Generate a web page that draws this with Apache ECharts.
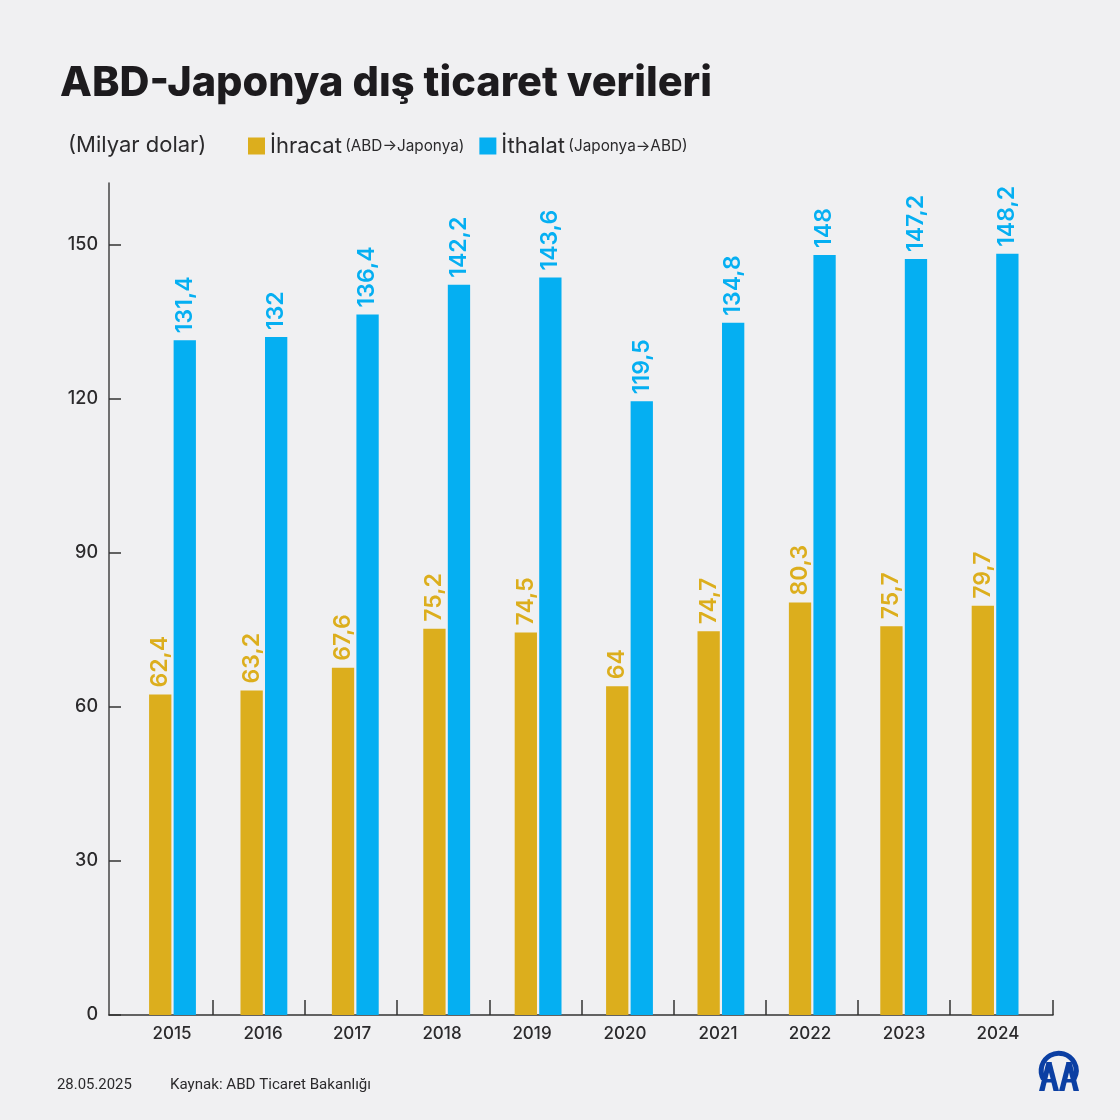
<!DOCTYPE html>
<html>
<head>
<meta charset="utf-8">
<title>ABD-Japonya dış ticaret verileri</title>
<script src="https://cdn.jsdelivr.net/npm/echarts@6/dist/echarts.min.js"></script>
<style>
  html, body { margin: 0; padding: 0; background: #f0f0f2; }
  #chart { width: 1120px; height: 1120px; }
</style>
</head>
<body>
<div id="chart"></div>
<script>
// veriler
var years = [2015, 2016, 2017, 2018, 2019, 2020, 2021, 2022, 2023, 2024]
var ihracat = [62.4, 63.2, 67.6, 75.2, 74.5, 64, 74.7, 80.3, 75.7, 79.7]
var ithalat = [131.4, 132, 136.4, 142.2, 143.6, 119.5, 134.8, 148, 147.2, 148.2]
var yTicks = [0, 30, 60, 90, 120, 150]
var seriesNames = ['İhracat', 'İthalat']
var seriesNotes = ['(ABD→Japonya)', '(Japonya→ABD)']

var gold = '#dcae1d'
var blue = '#05aff2'
var ink = '#2b2a2c'
var logoBlue = '#0b3fa3'
var numFont = 'Inter'
var headFont = 'Inter'

// x ekseni piksel <-> yil donusumu, bar araligi 91.4px
function xVal(px) {
  return 2015 + (px - 172.5) / 91.4
}
// ayrac tikler 92px aralikli, son tik eksen sonunda
var xTicks = years.slice(0, 9).map(function (y, i) {
  return xVal(213 + i * 92.1)
})
xTicks.push(xVal(1053))
// yil etiketleri barlara tam ortali degil
var xLabelPos = [172, 263, 352, 442, 532, 625, 718, 810, 904, 998].map(xVal)

function pairs(values) {
  return values.map(function (v, i) {
    return [years[i], v]
  })
}
function labelOf(color) {
  return {
    show: true,
    position: 'top',
    distance: 7,
    rotate: 90,
    align: 'left',
    verticalAlign: 'middle',
    color: color,
    fontFamily: headFont,
    fontWeight: 600,
    fontSize: 23,
    formatter: function (p) {
      return String(p.value[1]).replace('.', ',')
    }
  }
}
// logodaki A harfi: iki bacak ve bir cizgi
function logoA(x) {
  return [
    { type: 'polygon', shape: { points: [[x, 1091], [x + 7.5, 1062], [x + 12.5, 1062], [x + 5.5, 1091]] }, style: { fill: logoBlue } },
    { type: 'polygon', shape: { points: [[x + 20, 1091], [x + 12.5, 1062], [x + 7.5, 1062], [x + 14.5, 1091]] }, style: { fill: logoBlue } },
    { type: 'rect', shape: { x: x + 4, y: 1079, width: 12, height: 3.5 }, style: { fill: logoBlue } }
  ]
}

var chart = echarts.init(document.getElementById('chart'))
chart.setOption({
  backgroundColor: '#f0f0f2',
  animation: false,
  title: {
    text: 'ABD-Japonya dış ticaret verileri',
    left: 55,
    top: 58,
    textStyle: { fontFamily: headFont, fontWeight: 800, fontSize: 41.5, color: '#1d1b1e' }
  },
  legend: {
    left: 243,
    top: 130,
    itemWidth: 17,
    itemHeight: 17,
    itemGap: 15,
    icon: 'rect',
    data: seriesNames,
    selectedMode: false,
    formatter: function (name) {
      return '{a|' + name + '} {b|' + seriesNotes[seriesNames.indexOf(name)] + '}'
    },
    textStyle: {
      rich: {
        a: { fontFamily: headFont, fontSize: 22, color: ink },
        b: { fontFamily: headFont, fontSize: 15.3, color: ink }
      }
    }
  },
  grid: { left: 109, right: 67, top: 183, bottom: 105 },
  xAxis: {
    type: 'value',
    min: xVal(109),
    max: xVal(1053),
    splitLine: { show: false },
    axisLine: { show: true, lineStyle: { color: '#333', width: 1.5 } },
    axisTick: {
      show: true,
      inside: true,
      length: 15,
      customValues: xTicks,
      lineStyle: { color: '#333', width: 1.5 }
    },
    axisLabel: {
      customValues: xLabelPos,
      margin: 10,
      color: ink,
      fontFamily: numFont,
      fontWeight: 500,
      fontSize: 17,
      formatter: function (v) { return String(Math.round(v)) }
    }
  },
  yAxis: {
    type: 'value',
    min: 0,
    max: 162,
    splitLine: { show: false },
    axisLine: { show: true, lineStyle: { color: '#444', width: 1.5 } },
    axisTick: {
      show: true,
      inside: true,
      length: 12,
      customValues: yTicks,
      lineStyle: { color: '#333', width: 1.5 }
    },
    axisLabel: {
      customValues: yTicks,
      margin: 11,
      color: ink,
      fontFamily: numFont,
      fontWeight: 500,
      fontSize: 18,
      verticalAlignMinLabel: 'middle'
    }
  },
  series: [
    {
      name: seriesNames[0],
      type: 'bar',
      barWidth: 22.3,
      barGap: '10%',
      itemStyle: { color: gold },
      label: labelOf(gold),
      data: pairs(ihracat)
    },
    {
      name: seriesNames[1],
      type: 'bar',
      barWidth: 22.3,
      barGap: '10%',
      itemStyle: { color: blue },
      label: labelOf(blue),
      data: pairs(ithalat)
    }
  ],
  graphic: [
    {
      type: 'text',
      left: 68,
      top: 134,
      style: { text: '(Milyar dolar)', fontFamily: headFont, fontSize: 22, fill: ink }
    },
    {
      type: 'text',
      left: 57,
      top: 1078,
      style: { text: '28.05.2025', fontFamily: 'Roboto', fontSize: 14.9, fill: ink }
    },
    {
      type: 'text',
      left: 170,
      top: 1078,
      style: { text: 'Kaynak: ABD Ticaret Bakanlığı', fontFamily: 'Roboto', fontSize: 15.1, fill: ink }
    },
    // AA logosu
    {
      type: 'arc',
      shape: { cx: 1058.7, cy: 1070.7, r: 17.5, startAngle: Math.PI * 0.84, endAngle: Math.PI * 0.16 },
      style: { stroke: logoBlue, lineWidth: 5, fill: 'none' }
    }
  ].concat(logoA(1039), logoA(1059))
})
</script>
</body>
</html>
